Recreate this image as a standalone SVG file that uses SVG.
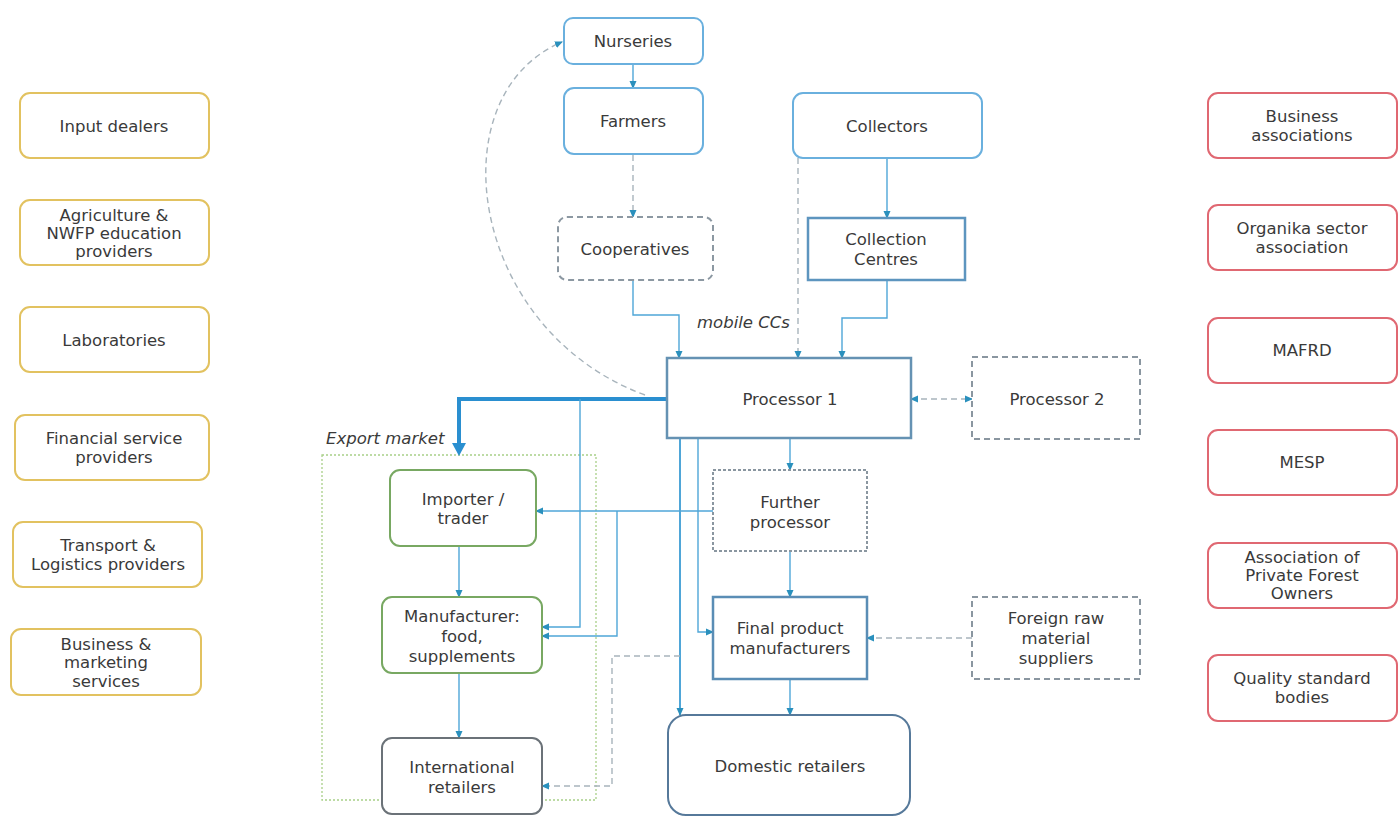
<svg xmlns="http://www.w3.org/2000/svg" width="1399" height="829" viewBox="0 0 1399 829">
<defs>
<marker id="arr" markerWidth="8" markerHeight="8" refX="7" refY="4" orient="auto" markerUnits="userSpaceOnUse">
<path d="M0,0.5 L8,4 L0,7.5 Z" fill="#2a90bd"/>
</marker>
<marker id="arrS" markerWidth="8" markerHeight="8" refX="1" refY="4" orient="auto" markerUnits="userSpaceOnUse">
<path d="M8,0.5 L0,4 L8,7.5 Z" fill="#2a90bd"/>
</marker>
</defs>
<style>
text{font-family:"DejaVu Sans","Liberation Sans",sans-serif;font-size:16.5px;fill:#3a3a3a;text-anchor:middle}
.it{font-style:italic;text-anchor:start}
.y{fill:#fff;stroke:#e2c260;stroke-width:2}
.r{fill:#fff;stroke:#e06872;stroke-width:2}
.b{fill:#fff;stroke:#6ab0de;stroke-width:2}
.bd{fill:#fff;stroke:#8c98a2;stroke-width:2;stroke-dasharray:6 4}
.bs{fill:#fff;stroke:#5d95bf;stroke-width:2.5}
.gd{fill:#fff;stroke:#8a96a0;stroke-width:2;stroke-dasharray:6 4}
.gdot{fill:#fff;stroke:#8a96a0;stroke-width:2;stroke-dasharray:3 2}
.g{fill:#fff;stroke:#78a862;stroke-width:2}
.k{fill:#fff;stroke:#6b7278;stroke-width:2}
.c{fill:none;stroke:#4fa6d8;stroke-width:1.4}
.cd{fill:none;stroke:#a8b4bc;stroke-width:1.4;stroke-dasharray:6 4}
</style>

<g id="export-market">
<rect x="322" y="455" width="274" height="345" fill="none" stroke="#a8cf88" stroke-width="1.3" stroke-dasharray="2 2"/>
<text class="it" x="326" y="444">Export market</text>
</g>

<g id="connectors">
<path class="cd" d="M645 395 C468 330 436 95 562 42" marker-end="url(#arr)"/>
<path class="c" d="M633 64 V88" marker-end="url(#arr)"/>
<path class="cd" d="M633 155 V217" marker-end="url(#arr)"/>
<path class="c" d="M887 158 V218" marker-end="url(#arr)"/>
<path class="cd" d="M798 158 V358" marker-end="url(#arr)"/>
<path class="c" d="M633 280 V315 H679 V358" marker-end="url(#arr)"/>
<path class="c" d="M887 280 V318 H842 V358" marker-end="url(#arr)"/>
<path class="cd" d="M911 399 H972" marker-start="url(#arrS)" marker-end="url(#arr)"/>
<path fill="none" stroke="#2a8fd0" stroke-width="4" d="M667 399 H459 V446"/>
<path d="M452 443 L466 443 L459 456 Z" fill="#2a8fd0"/>
<path class="c" d="M580 399 V627 H542" marker-end="url(#arr)"/>
<path class="c" d="M713 511 H536" marker-end="url(#arr)"/>
<path class="c" d="M617 511 V636 H542" marker-end="url(#arr)"/>
<path class="c" d="M680 438 V715" style="stroke-width:2" marker-end="url(#arr)"/>
<path class="c" d="M698 438 V632 H713" marker-end="url(#arr)"/>
<path class="c" d="M790 438 V470" marker-end="url(#arr)"/>
<path class="c" d="M790 551 V597" marker-end="url(#arr)"/>
<path class="c" d="M790 679 V715" marker-end="url(#arr)"/>
<path class="cd" d="M972 638 H867" marker-end="url(#arr)"/>
<path class="cd" d="M680 656 H612 V786 H542" marker-end="url(#arr)"/>
<path class="c" d="M459 546 V597" marker-end="url(#arr)"/>
<path class="c" d="M459 673 V738" marker-end="url(#arr)"/>
</g>

<g id="input-dealers"><rect class="y" x="20" y="93" width="189" height="65" rx="10"/><text x="114" y="132">Input dealers</text></g>
<g id="agriculture-education"><rect class="y" x="20" y="200" width="189" height="65" rx="10"/><text x="114" y="221">Agriculture &amp;</text><text x="114" y="239">NWFP education</text><text x="114" y="257">providers</text></g>
<g id="laboratories"><rect class="y" x="20" y="307" width="189" height="65" rx="10"/><text x="114" y="346">Laboratories</text></g>
<g id="financial-service"><rect class="y" x="15" y="415" width="194" height="65" rx="10"/><text x="114" y="444">Financial service</text><text x="114" y="463">providers</text></g>
<g id="transport-logistics"><rect class="y" x="13" y="522" width="189" height="65" rx="10"/><text x="108" y="551">Transport &amp;</text><text x="108" y="570">Logistics providers</text></g>
<g id="business-marketing"><rect class="y" x="11" y="629" width="190" height="66" rx="10"/><text x="106" y="650">Business &amp;</text><text x="106" y="668">marketing</text><text x="106" y="687">services</text></g>

<g id="business-associations"><rect class="r" x="1208" y="93" width="189" height="65" rx="10"/><text x="1302" y="122">Business</text><text x="1302" y="141">associations</text></g>
<g id="organika"><rect class="r" x="1208" y="205" width="189" height="65" rx="10"/><text x="1302" y="234">Organika sector</text><text x="1302" y="253">association</text></g>
<g id="mafrd"><rect class="r" x="1208" y="318" width="189" height="65" rx="10"/><text x="1302" y="356">MAFRD</text></g>
<g id="mesp"><rect class="r" x="1208" y="430" width="189" height="65" rx="10"/><text x="1302" y="468">MESP</text></g>
<g id="private-forest-owners"><rect class="r" x="1208" y="543" width="189" height="65" rx="10"/><text x="1302" y="563">Association of</text><text x="1302" y="581">Private Forest</text><text x="1302" y="599">Owners</text></g>
<g id="quality-standard"><rect class="r" x="1208" y="655" width="189" height="66" rx="10"/><text x="1302" y="684">Quality standard</text><text x="1302" y="703">bodies</text></g>

<g id="nurseries"><rect class="b" x="564" y="18" width="139" height="46" rx="9"/><text x="633" y="47">Nurseries</text></g>
<g id="farmers"><rect class="b" x="564" y="88" width="139" height="66" rx="10"/><text x="633" y="127">Farmers</text></g>
<g id="collectors"><rect class="b" x="793" y="93" width="189" height="65" rx="10"/><text x="887" y="132">Collectors</text></g>
<g id="cooperatives"><rect class="bd" x="558" y="217" width="155" height="63" rx="9"/><text x="635" y="255">Cooperatives</text></g>
<g id="collection-centres"><rect class="bs" x="808" y="218" width="157" height="62"/><text x="886" y="245">Collection</text><text x="886" y="265">Centres</text></g>
<g id="mobile-ccs"><text class="it" x="697" y="328">mobile CCs</text></g>
<g id="processor-1"><rect class="bs" x="667" y="358" width="244" height="80" style="stroke:#6592b3"/><text x="790" y="405">Processor 1</text></g>
<g id="processor-2"><rect class="gd" x="972" y="357" width="168" height="82"/><text x="1057" y="405">Processor 2</text></g>
<g id="further-processor"><rect class="gdot" x="713" y="470" width="154" height="81"/><text x="790" y="508">Further</text><text x="790" y="528">processor</text></g>
<g id="final-product"><rect class="bs" x="713" y="597" width="154" height="82" style="stroke:#5a8db5"/><text x="790" y="634">Final product</text><text x="790" y="654">manufacturers</text></g>
<g id="foreign-raw"><rect class="gd" x="972" y="597" width="168" height="82"/><text x="1056" y="624">Foreign raw</text><text x="1056" y="644">material</text><text x="1056" y="664">suppliers</text></g>
<g id="domestic-retailers"><rect class="b" x="668" y="715" width="242" height="100" rx="18" style="stroke:#56799a"/><text x="790" y="772">Domestic retailers</text></g>
<g id="importer-trader"><rect class="g" x="390" y="470" width="146" height="76" rx="10"/><text x="463" y="505">Importer /</text><text x="463" y="524">trader</text></g>
<g id="manufacturer"><rect class="g" x="382" y="597" width="160" height="76" rx="10"/><text x="462" y="622">Manufacturer:</text><text x="462" y="642">food,</text><text x="462" y="662">supplements</text></g>
<g id="international-retailers"><rect class="k" x="382" y="738" width="160" height="76" rx="10"/><text x="462" y="773">International</text><text x="462" y="793">retailers</text></g>
</svg>
